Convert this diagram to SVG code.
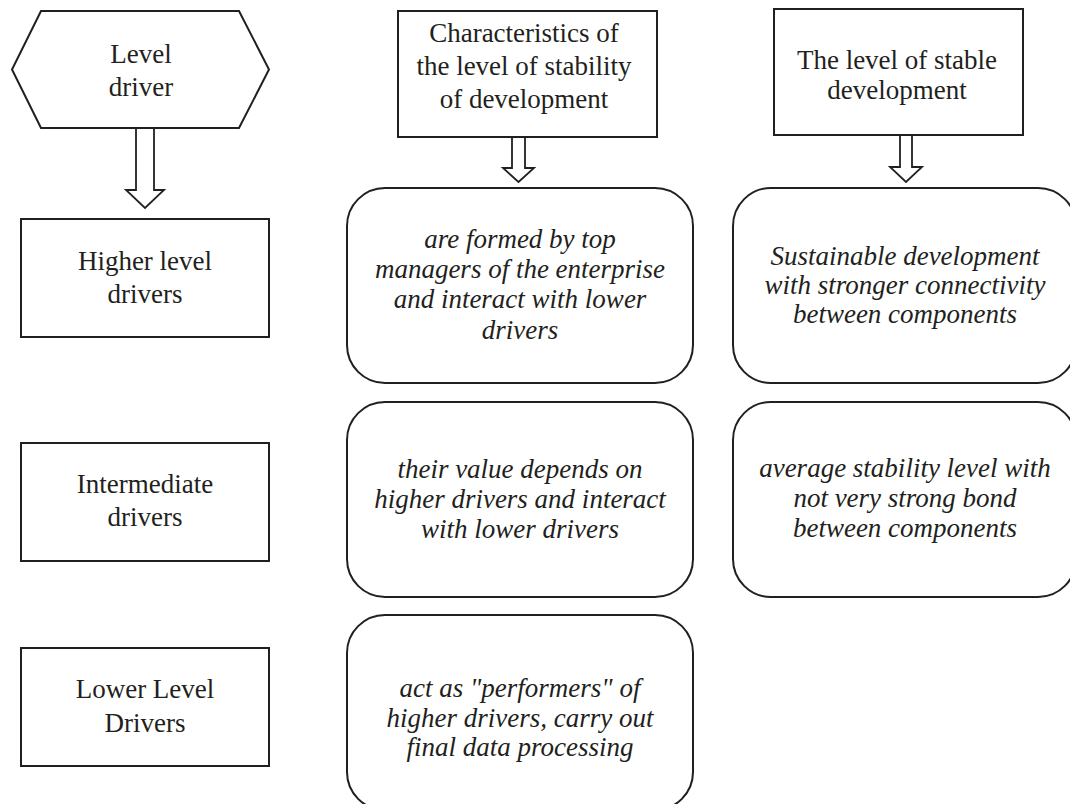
<svg xmlns="http://www.w3.org/2000/svg" width="1070" height="804" viewBox="0 0 1070 804">
  <style>
    .box { fill: #ffffff; stroke: #231f20; stroke-width: 2; }
    .arrow { fill: #ffffff; stroke: #231f20; stroke-width: 1.8; stroke-linejoin: miter; }
    .t { font-family: "Liberation Serif", "Times New Roman", serif; font-size: 27px; fill: #231f20; text-anchor: middle; }
    .it { font-style: italic; }
  </style>
  <rect x="0" y="0" width="1070" height="804" fill="#ffffff"/>

  <g id="connectors">
    <polygon class="arrow" points="136,128 154,128 154,190 164,190 145,208 126,190 136,190"/>
    <polygon class="arrow" points="512,137 525,137 525,168 534,168 518.5,182 503,168 512,168"/>
    <polygon class="arrow" points="900,135 912,135 912,167 922,167 906,182 890,167 900,167"/>
  </g>

  <g id="level-driver">
    <polygon class="box" points="41,11 239,11 269,69.5 239,128 41,128 12,69.5"/>
    <text class="t" x="141" y="63">Level</text>
    <text class="t" x="141" y="96">driver</text>
  </g>

  <g id="characteristics-header">
    <rect class="box" x="398" y="11" width="259" height="126"/>
    <text class="t" x="524" y="42">Characteristics of</text>
    <text class="t" x="524" y="75">the level of stability</text>
    <text class="t" x="524" y="108">of development</text>
  </g>

  <g id="stable-header">
    <rect class="box" x="774" y="9" width="249" height="126"/>
    <text class="t" x="897" y="69">The level of stable</text>
    <text class="t" x="897" y="99">development</text>
  </g>

  <g id="higher-drivers">
    <rect class="box" x="21" y="219" width="248" height="118"/>
    <text class="t" x="145" y="270">Higher level</text>
    <text class="t" x="145" y="303">drivers</text>
  </g>

  <g id="intermediate-drivers">
    <rect class="box" x="21" y="443" width="248" height="118"/>
    <text class="t" x="145" y="493">Intermediate</text>
    <text class="t" x="145" y="526">drivers</text>
  </g>

  <g id="lower-drivers">
    <rect class="box" x="21" y="648" width="248" height="118"/>
    <text class="t" x="145" y="698">Lower Level</text>
    <text class="t" x="145" y="732">Drivers</text>
  </g>

  <g id="char-higher">
    <rect class="box" x="347" y="188" width="346" height="195" rx="38" ry="38"/>
    <text class="t it" x="520" y="248">are formed by top</text>
    <text class="t it" x="520" y="278">managers of the enterprise</text>
    <text class="t it" x="520" y="308">and interact with lower</text>
    <text class="t it" x="520" y="339">drivers</text>
  </g>

  <g id="char-intermediate">
    <rect class="box" x="347" y="402" width="346" height="195" rx="38" ry="38"/>
    <text class="t it" x="520" y="478">their value depends on</text>
    <text class="t it" x="520" y="508">higher drivers and interact</text>
    <text class="t it" x="520" y="538">with lower drivers</text>
  </g>

  <g id="char-lower">
    <rect class="box" x="347" y="615" width="346" height="195" rx="38" ry="38"/>
    <text class="t it" x="520" y="697">act as "performers" of</text>
    <text class="t it" x="520" y="727">higher drivers, carry out</text>
    <text class="t it" x="520" y="756">final data processing</text>
  </g>

  <g id="stable-higher">
    <rect class="box" x="733" y="188" width="343" height="195" rx="38" ry="38"/>
    <text class="t it" x="905" y="265">Sustainable development</text>
    <text class="t it" x="905" y="294">with stronger connectivity</text>
    <text class="t it" x="905" y="323">between components</text>
  </g>

  <g id="stable-intermediate">
    <rect class="box" x="733" y="402" width="343" height="195" rx="38" ry="38"/>
    <text class="t it" x="905" y="477">average stability level with</text>
    <text class="t it" x="905" y="507">not very strong bond</text>
    <text class="t it" x="905" y="537">between components</text>
  </g>
</svg>
